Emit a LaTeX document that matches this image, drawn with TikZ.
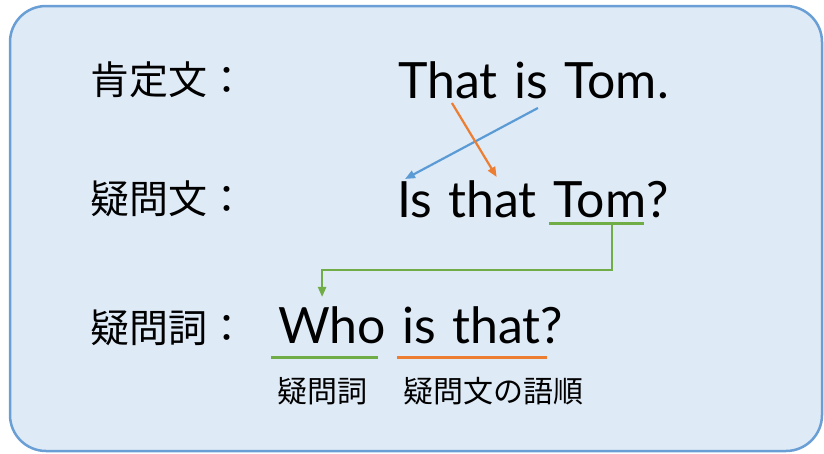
\documentclass[tikz,border=0pt]{standalone}
\usepackage{fontspec}
\setmainfont{Lato}
\newfontfamily\jpfont{Noto Sans CJK JP}
\usetikzlibrary{arrows.meta}
\definecolor{boxfill}{HTML}{DEEAF6}
\definecolor{boxline}{HTML}{6A9FD6}
\definecolor{arrblue}{HTML}{5B9BD5}
\definecolor{arrorange}{HTML}{ED7D31}
\definecolor{arrgreen}{HTML}{70AD47}
\tikzset{
  word/.style={inner sep=0pt, anchor=base west, font=\fontsize{50}{50}\selectfont},
  jplabel/.style={inner sep=0pt, anchor=west, font=\jpfont\fontsize{39}{39}\selectfont},
  jpnote/.style={inner sep=0pt, anchor=west, font=\jpfont\fontsize{30}{30}\selectfont},
  uline/.style={line width=3pt},
  arrline/.style={->, line width=2.2pt},
}
\begin{document}
\begin{tikzpicture}[x=1pt, y=-1pt, >={Triangle[length=10pt,width=8pt]}]
  \def\Xl{90};  % left labels
  \def\Sp{16pt}; % word space
  \def\Ya{98};  % baselines
  \def\Yb{217};
  \def\Yc{343};
  \useasboundingbox (0,0) rectangle (824,453);
  % frame
  \draw[boxline, fill=boxfill, line width=2.5pt, rounded corners=36pt] (10,6) rectangle (822,451);

  % row labels
  \node[jplabel] (kotei) at (\Xl, 80) {肯定文：};
  \node[jplabel] (gimonbun) at (\Xl, 199) {疑問文：};
  \node[jplabel] (gimonshi) at (\Xl, 328) {疑問詞：};

  % affirmative
  \node[word] (that1) at (398, \Ya) {That};
  \node[word] (is1) at ([xshift=\Sp]that1.base east) {is};
  \node[word] (tom1) at ([xshift=\Sp]is1.base east) {Tom.};

  % question
  \node[word] (is2) at (397, \Yb) {Is};
  \node[word] (that2) at ([xshift=\Sp]is2.base east) {that};
  \node[word] (tom2) at ([xshift=\Sp]that2.base east) {Tom};
  \node[word] (qm2) at (tom2.base east) {?};

  % wh-question
  \node[word] (who) at (278, \Yc) {Who};
  \node[word] (is3) at ([xshift=\Sp]who.base east) {is};
  \node[word] (that3) at ([xshift=\Sp]is3.base east) {that?};

  % notes
  \node[jpnote] (noteshi) at (277, 391) {疑問詞};
  \node[jpnote] (notejun) at (403, 391) {疑問文の語順};

	% word order
	\draw[arrline, arrblue] ([xshift=-10pt,yshift=-10pt]is1.base east) -- ([xshift=8pt,yshift=2pt]is2.north west);
	\draw[arrline, arrorange] ([xshift=4pt,yshift=-5pt]that1.base) -- ([xshift=4pt,yshift=3pt]that2.north);

	% Tom -> Who
	\draw[uline, arrgreen] ([xshift=-4pt,yshift=-6pt]tom2.base west) -- ([xshift=-2pt,yshift=-6pt]tom2.base east);
	\draw[arrline, arrgreen] ([xshift=12pt,yshift=-6pt]tom2.base) -- ++(0,47) -| ([xshift=-10pt,yshift=9pt]who.north);

	% underlines
	\draw[uline, arrgreen] ([xshift=-7pt,yshift=-14pt]who.base west) -- ([xshift=-8pt,yshift=-14pt]who.base east);
	\draw[uline, arrorange] ([xshift=-5pt,yshift=-14pt]is3.base west) -- ([xshift=-16pt,yshift=-14pt]that3.base east);
\end{tikzpicture}
\end{document}
